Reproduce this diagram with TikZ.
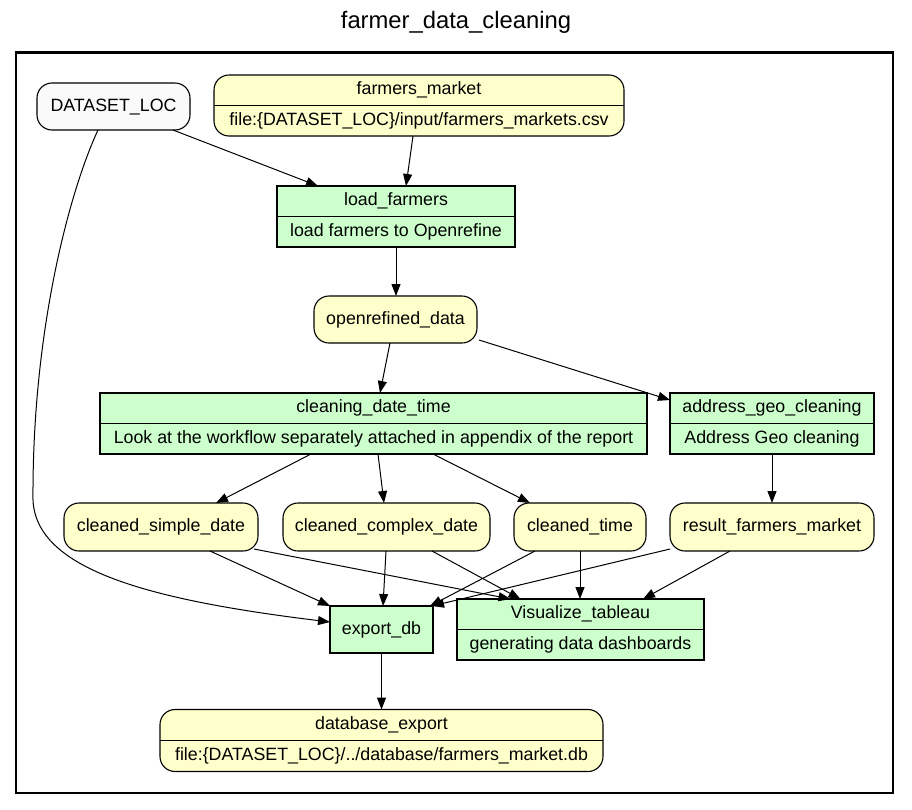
\documentclass[tikz,border=0pt]{standalone}
\usepackage{fontspec}
\setmainfont{Liberation Sans}
\usetikzlibrary{arrows.meta,calc}
\definecolor{yel}{HTML}{FFFFCC}
\definecolor{grn}{HTML}{CCFFCC}
\definecolor{dsf}{HTML}{FAFAFA}
\newcommand\tp[3]{%
  \path (#1.north) -- (#1.center) node[midway,txt]{#2};
  \path (#1.south) -- (#1.center) node[midway,txt]{#3};
  \draw[line width=1pt] (#1.west) -- (#1.east);}
\begin{document}
\begin{tikzpicture}[x=1pt,y=-1pt,
  txt/.style={font=\fontsize{17.8}{20}\selectfont,inner sep=0pt,text height=12.7pt,text depth=3.7pt},
  box/.style={draw=black,line width=1.1pt,inner sep=0pt,outer sep=0pt,txt},
  data/.style={box,fill=yel,rounded corners=15pt},
  proc/.style={box,fill=grn},
  param/.style={box,fill=dsf,rounded corners=15pt},
  edge/.style={line width=1pt,-{Triangle[length=12pt,width=9pt]}}]
\useasboundingbox (0,0) rectangle (912,809);
\node[font=\fontsize{23.8}{28}\selectfont] (title) at (456,22) {farmer\_data\_cleaning};
\draw[line width=2.2pt] (16,52.5) rectangle (893,793);

\node[param,minimum width=153pt,minimum height=47pt] (dl) at (113.5,106.5) {DATASET\_LOC};
\node[data,minimum width=410pt,minimum height=61pt] (fm) at (419,105.5) {};
\tp{fm}{farmers\_market}{file:\{DATASET\_LOC\}/input/farmers\_markets.csv}
\node[proc,minimum width=238pt,minimum height=61pt] (lf) at (396,216.5) {};
\tp{lf}{load\_farmers}{load farmers to Openrefine}
\node[data,minimum width=163pt,minimum height=47pt] (or) at (395.5,319.5) {openrefined\_data};
\node[proc,minimum width=547pt,minimum height=61pt] (cdt) at (373.5,423.5) {};
\tp{cdt}{cleaning\_date\_time}{Look at the workflow separately attached in appendix of the report}
\node[proc,minimum width=204pt,minimum height=61pt] (agc) at (772,423.5) {};
\tp{agc}{address\_geo\_cleaning}{Address Geo cleaning}
\node[data,minimum width=194pt,minimum height=48pt] (csd) at (161,527) {cleaned\_simple\_date};
\node[data,minimum width=207pt,minimum height=48pt] (ccd) at (386.5,527) {cleaned\_complex\_date};
\node[data,minimum width=132pt,minimum height=48pt] (ct) at (580,527) {cleaned\_time};
\node[data,minimum width=204pt,minimum height=48pt] (rfm) at (772,527) {result\_farmers\_market};
\node[proc,minimum width=103pt,minimum height=47pt] (ex) at (381.5,629.5) {export\_db};
\node[proc,minimum width=247pt,minimum height=61pt] (vt) at (580.5,629.5) {};
\tp{vt}{Visualize\_tableau}{generating data dashboards}
\node[data,minimum width=443pt,minimum height=62pt] (de) at (381.5,740.5) {};
\tp{de}{database\_export}{file:\{DATASET\_LOC\}/../database/farmers\_market.db}

\draw[edge] ([xshift=59.5pt]dl.south) -- ([xshift=-78pt]lf.north);
\draw[edge] ([xshift=-15.5pt]dl.south) .. controls (70,190) and (32,330) .. (33,500)
  .. controls (36,570) and (150,600) .. ([yshift=7.5pt]ex.west);
\draw[edge] ([xshift=-6pt]fm.south) -- ([xshift=10pt]lf.north);
\draw[edge] (lf.south) -- (lf.south |- or.north);
\draw[edge] ([xshift=-5.5pt]or.south) -- ([xshift=6.5pt]cdt.north);
\draw[edge] ([xshift=2pt,yshift=3pt]or.south east) -- ([yshift=-7pt]agc.north west);
\draw[edge] ([xshift=-62.5pt]cdt.south) -- ([xshift=55pt]csd.north);
\draw[edge] ([xshift=4.5pt]cdt.south) -- ([xshift=-2.5pt]ccd.north);
\draw[edge] ([xshift=59.5pt]cdt.south) -- ([xshift=-50pt]ct.north);
\draw[edge] (agc.south) -- (rfm.north);
\draw[edge] ([xshift=49pt]csd.south) -- (ex.north west);
\draw[edge] ([xshift=-4pt,yshift=2pt]csd.south east) -- ([xshift=-70pt]vt.north);
\draw[edge] ([xshift=-0.5pt]ccd.south) -- ([xshift=1.5pt]ex.north);
\draw[edge] ([xshift=45.5pt]ccd.south) -- ([xshift=-60pt]vt.north);
\draw[edge] ([xshift=-45pt]ct.south) -- ([xshift=-3pt]ex.north east);
\draw[edge] (ct.south) -- (ct.south |- vt.north);
\draw[edge] ([yshift=2pt]rfm.south west) -- ([xshift=-1pt]ex.north east);
\draw[edge] ([xshift=-42pt]rfm.south) -- ([xshift=62.5pt]vt.north);
\draw[edge] (ex.south) -- (de.north);
\end{tikzpicture}
\end{document}
